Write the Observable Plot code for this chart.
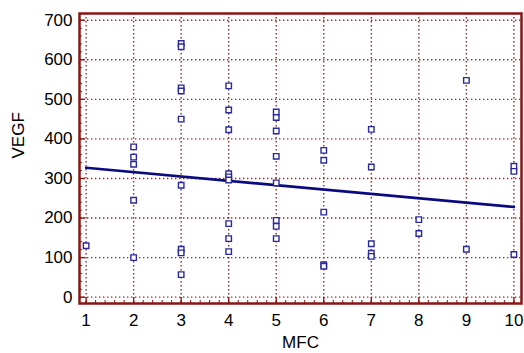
<!DOCTYPE html>
<html>
<head>
<meta charset="utf-8">
<script src="https://cdn.jsdelivr.net/npm/d3@7"></script>
<script src="https://cdn.jsdelivr.net/npm/@observablehq/plot@0.6"></script>
<style>
  html, body { margin: 0; padding: 0; background: #fff; }
  #chart svg { display: block; }
</style>
</head>
<body>
<div id="chart"></div>
<script>
// MFC category (x) and VEGF values (y)
const mfc  = [1, 2, 2, 2, 2, 2,
              3, 3, 3, 3, 3, 3, 3, 3, 3,
              4, 4, 4, 4, 4, 4, 4, 4, 4,
              5, 5, 5, 5, 5, 5, 5, 5,
              6, 6, 6, 6, 6,
              7, 7, 7, 7, 7,
              8, 8,
              9, 9,
              10, 10, 10];
const vegf = [130, 380, 354, 336, 245, 100,
              641, 633, 529, 521, 450, 283, 121, 112, 57,
              534, 473, 423, 312, 304, 296, 186, 148, 115,
              468, 454, 420, 356, 289, 194, 179, 148,
              371, 346, 215, 82, 78,
              424, 329, 135, 111, 103,
              196, 161,
              548, 121,
              331, 318, 108];
// regression line end points
const fitX = [1, 10];
const fitY = [327, 228];
// tick labels
const xTicks = [1, 2, 3, 4, 5, 6, 7, 8, 9, 10];
const yTicks = [0, 100, 200, 300, 400, 500, 600, 700];
const xMinor = d3.range(1, 10.001, 0.2).filter(v => v < 10.16);
const yMinor = d3.range(0, 701, 20);

const points = mfc.map((x, i) => ({x, y: vegf[i]}));
const fit = fitX.map((x, i) => ({x, y: fitY[i]}));

const red = "#8b1414";
const yLo = -16, yHi = 717;
const pxPerY = 276.7 / 700;

const chart = Plot.plot({
  width: 524,
  height: 353,
  marginLeft: 79,
  marginRight: 3,
  marginTop: 13,
  marginBottom: 50,
  style: {fontFamily: "Arial, 'Liberation Sans', sans-serif", background: "#fff"},
  x: {domain: [0.861, 10.16], label: null},
  y: {domain: [yLo, yHi], label: null},
  marks: [
    // dotted grid
    Plot.ruleX(xTicks, {stroke: red, strokeWidth: 1.4, strokeDasharray: "1.4,2.6", strokeOpacity: 0.9}),
    Plot.ruleY(yTicks, {stroke: red, strokeWidth: 1.4, strokeDasharray: "1.4,2.6", strokeOpacity: 0.9}),
    // inward minor ticks
    Plot.ruleX(xMinor, {y1: yLo, y2: yLo + 3 / pxPerY, stroke: red, strokeWidth: 1}),
    Plot.ruleX(xTicks, {y1: yLo, y2: yLo + 6 / pxPerY, stroke: red, strokeWidth: 1.3}),
    Plot.ruleY(yMinor, {x1: 0.861, x2: 0.861 + 3 / 47.56, stroke: red, strokeWidth: 1}),
    Plot.ruleY(yTicks, {x1: 0.861, x2: 0.861 + 6 / 47.56, stroke: red, strokeWidth: 1.3}),
    // axes labels
    Plot.axisX(xTicks, {tickSize: 0, tickPadding: 10, fontSize: 17, fill: "#000", label: null}),
    Plot.axisY(yTicks, {tickSize: 0, tickPadding: 7, fontSize: 17, fill: "#000", label: null}),
    Plot.text(["MFC"], {frameAnchor: "bottom", dy: 44, fontSize: 17, fill: "#000"}),
    Plot.text(["VEGF"], {frameAnchor: "left", dx: -61, rotate: -90, fontSize: 17, fill: "#000"}),
    // regression line
    Plot.line(fit, {x: "x", y: "y", stroke: "#0a0a80", strokeWidth: 2.6}),
    // data points
    Plot.dot(points, {x: "x", y: "y", symbol: "square", r: 3.1, stroke: "#2a2a9c", strokeWidth: 1.4, fill: "#fff"}),
    Plot.frame({stroke: red, strokeWidth: 2.5})
  ]
});
document.getElementById("chart").append(chart);
</script>
</body>
</html>
